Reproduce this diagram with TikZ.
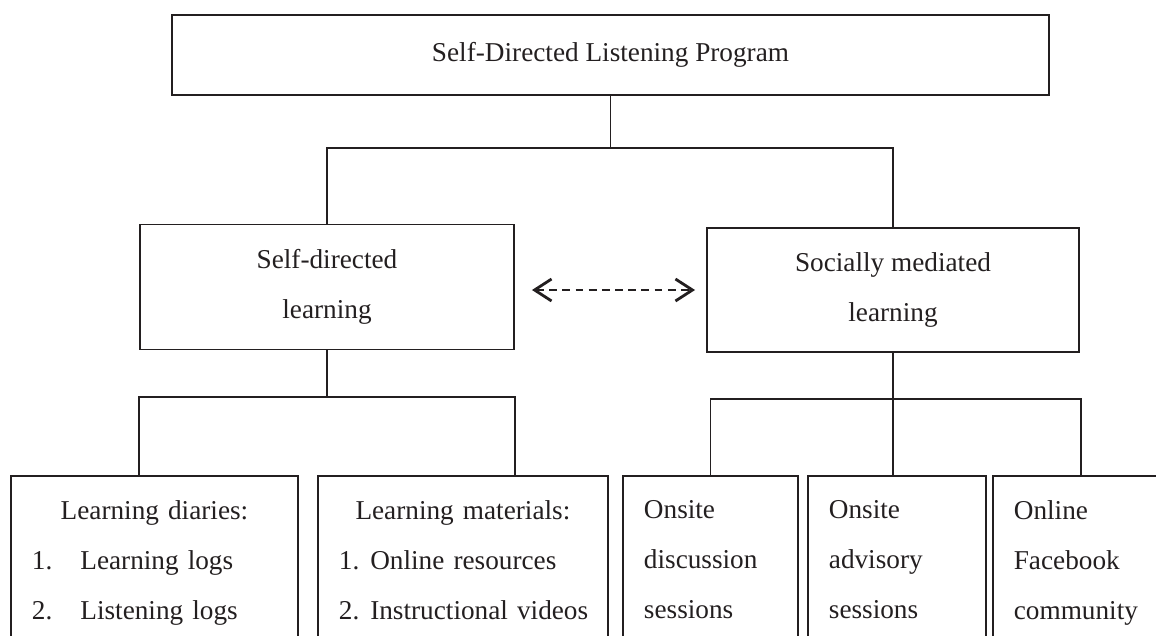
\documentclass[tikz,border=0pt]{standalone}
\usepackage{fontspec}
\setmainfont{Liberation Serif}
\usetikzlibrary{arrows.meta, positioning}
\definecolor{lineblack}{HTML}{231F20}

\begin{document}
\begin{tikzpicture}[
  every node/.style={font=\fontsize{15.5}{28.5}\selectfont, text=lineblack},
  box/.style={rectangle, draw=lineblack, line width=1.1pt, align=center},
  leaf/.style={box, anchor=north west, align=left, inner xsep=0.42cm, inner ysep=0.49cm},
  link/.style={draw=lineblack, line width=1.1pt},
  dasharrow/.style={draw=lineblack, line width=1.6pt, dash pattern=on 4.5pt off 3pt,
    {Straight Barb[length=3.4mm, width=4.4mm]}-{Straight Barb[length=3.4mm, width=4.4mm]}},
]
\useasboundingbox (0,0) rectangle (23.12,-12.7);
\clip (0,0) rectangle (23.12,-12.7);

\node[box, minimum width=17.54cm, minimum height=1.6cm] (prog) at (12.21,-1.1) {Self-Directed Listening Program};
\node[box, minimum width=7.48cm, minimum height=2.5cm] (self) at (6.54,-5.74) {Self-directed\\learning};
\node[box, minimum width=7.44cm, minimum height=2.48cm] (social) at (17.86,-5.8) {Socially mediated\\learning};

\node[leaf, text width=4.9cm] (diaries) at (0.2,-9.5) {\makebox[4.9cm]{Learning diaries:}\\\mbox{1.\hspace{0.56cm}Learning logs}\\\mbox{2.\hspace{0.56cm}Listening logs}};
\node[leaf, text width=4.96cm, right=0.36cm of diaries.north east, anchor=north west] (materials) {\makebox[4.96cm]{Learning materials:}\\\mbox{1.\hspace{0.22cm}Online resources}\\\mbox{2.\hspace{0.22cm}Instructional videos}};

\node[leaf, text width=2.66cm] (discuss) at (12.44,-9.5) {Onsite\\discussion\\sessions};
\node[leaf, text width=2.72cm, right=0.16cm of discuss.north east, anchor=north west] (advisory) {Onsite\\advisory\\sessions};
\node[leaf, text width=2.7cm, right=0.1cm of advisory.north east, anchor=north west] (facebook) {Online\\Facebook\\community};

\draw[link] (prog.south) -- ++(0,-1.04) coordinate (tsplit);
\draw[link] (self.north) |- (tsplit) -| (social.north);

\draw[link] (self.south) -- ++(0,-0.93) coordinate (lsplit);
\draw[link] (self.west |- diaries.north) |- (lsplit) -| (self.east |- materials.north);

\draw[link] (social.south) -- ++(0,-0.92) coordinate (rsplit);
\draw[link] (discuss.north) |- (rsplit) -| (facebook.north);
\draw[link] (rsplit) -- (rsplit |- advisory.north);

\coordinate (arrowy) at (0,-5.8);
\draw[dasharrow, shorten <=0.34cm, shorten >=0.22cm] (self.east |- arrowy) -- (social.west |- arrowy);

\end{tikzpicture}
\end{document}
